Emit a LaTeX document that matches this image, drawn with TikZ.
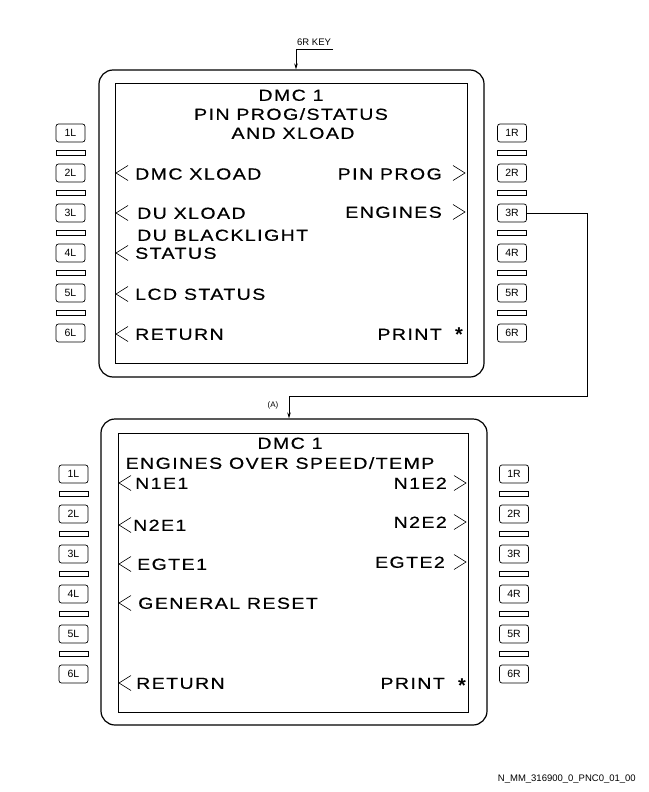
\documentclass[tikz,border=0pt]{standalone}
\usepackage{fontspec}
\setmainfont{Liberation Sans}
\newfontfamily\scrfont[FakeStretch=1.22,LetterSpace=9,FakeBold=0.5]{Liberation Sans}
\usetikzlibrary{arrows.meta}
\begin{document}
\begin{tikzpicture}[x=1pt,y=-1pt,
 outerbox/.style={draw, line width=1.2pt, rounded corners=14pt, inner sep=0pt},
 screenbox/.style={draw, line width=0.9pt, inner sep=0pt},
 keybox/.style={draw, line width=0.7pt, rounded corners=2.5pt, minimum width=29pt, minimum height=18pt, inner sep=0pt, font=\fontsize{10.5}{10.5}\selectfont},
 barbox/.style={draw, line width=0.7pt, minimum width=29pt, minimum height=5pt, inner sep=0pt},
 scrtxt/.style={inner sep=0pt, font=\scrfont\fontsize{16}{16}\selectfont},
 lt/.style={scrtxt, anchor=base west},
 rt/.style={scrtxt, anchor=base east},
 ct/.style={scrtxt, anchor=base},
 chev/.style={line width=0.6pt},
 link/.style={line width=0.7pt},
 tip/.style={-{Stealth[length=6pt,width=3.5pt]}},
 small/.style={inner sep=0pt, font=\fontsize{9.5}{9.5}\selectfont},
 lchev/.pic={\draw[chev] (12,-7.5) -- (0,0) -- (12,7.5);},
 rchev/.pic={\draw[chev] (-12,-7.5) -- (0,0) -- (-12,7.5);},
 star/.style={inner sep=0pt, font=\bfseries\fontsize{20}{20}\selectfont}
]
\useasboundingbox (0,0) rectangle (648,792);

% ---------- top unit ----------
\node[outerbox, minimum width=385pt, minimum height=307pt] (touter) at (291.5,223.5) {};
\node[screenbox, minimum width=352pt, minimum height=280pt] (tscreen) at (291,223) {};

\foreach \i in {1,...,6} {
  \pgfmathsetmacro{\yy}{133+40*(\i-1)}
  \node[keybox] (tL\i) at (70.5,\yy) {\i L};
  \node[keybox] (tR\i) at (512,\yy) {\i R};
}
\foreach \i in {1,...,5} {
  \pgfmathsetmacro{\yy}{153+40*(\i-1)}
  \node[barbox] (tLb\i) at (70.5,\yy) {};
  \node[barbox] (tRb\i) at (512,\yy) {};
}

\node[ct] (t1) at (291,100.8) {DMC 1};
\node[ct] (t2) at (291,119.8) {PIN PROG/STATUS};
\node[ct] (t3) at (293,138.8) {AND XLOAD};
\node[lt] (t4) at (135,179.5) {DMC XLOAD};
\node[rt] (t5) at (442,179.5) {PIN PROG};
\node[lt] (t6) at (137,218.8) {DU XLOAD};
\node[rt] (t7) at (442,217.8) {ENGINES};
\node[lt] (t8) at (137,240.8) {DU BLACKLIGHT};
\node[lt] (t9) at (135,258.8) {STATUS};
\node[lt] (t10) at (135,299.8) {LCD STATUS};
\node[lt] (t11) at (135,339.8) {RETURN};
\node[rt] (t12) at (442,339.8) {PRINT};
\node[star] (t13) at (459,335) {*};

\foreach \y in {173,213,253,294,334} \pic at (116,\y) {lchev};
\pic at (465,173) {rchev};
\pic at (465,212) {rchev};

% 6R KEY arrow
\node[small, anchor=base west] (keylbl) at (297,46) {6R KEY};
\coordinate (kend) at (333,49);
\coordinate (kcorner) at (296,49);
\draw[link, tip] (kend) -- (kcorner) -- (kcorner |- touter.north);

% ---------- bottom unit ----------
\node[outerbox, minimum width=386pt, minimum height=306pt] (bouter) at (294,572) {};
\node[screenbox, minimum width=350pt, minimum height=279pt] (bscreen) at (293,572.5) {};

\foreach \i in {1,...,6} {
  \pgfmathsetmacro{\yy}{474+40*(\i-1)}
  \node[keybox] (bL\i) at (73.5,\yy) {\i L};
  \node[keybox] (bR\i) at (514,\yy) {\i R};
}
\foreach \i in {1,...,5} {
  \pgfmathsetmacro{\yy}{494+40*(\i-1)}
  \node[barbox] (bLb\i) at (73.5,\yy) {};
  \node[barbox] (bRb\i) at (514,\yy) {};
}

\node[ct] (b1) at (290,448.8) {DMC 1};
\node[ct] (b2) at (280,468.8) {ENGINES OVER SPEED/TEMP};
\node[lt] (b3) at (135,488.8) {N1E1};
\node[rt] (b4) at (447,488.8) {N1E2};
\node[lt] (b5) at (133,530.8) {N2E1};
\node[rt] (b6) at (447,527.8) {N2E2};
\node[lt] (b7) at (137,569.8) {EGTE1};
\node[rt] (b8) at (445,567.8) {EGTE2};
\node[lt] (b9) at (138,608.8) {GENERAL RESET};
\node[lt] (b10) at (136,688.8) {RETURN};
\node[rt] (b11) at (445,688.8) {PRINT};
\node[star] (b12) at (462,686) {*};

\foreach \y in {483,525,564,603,683} \pic at (119,\y) {lchev};
\pic at (466,483) {rchev};
\pic at (466,522) {rchev};
\pic at (466,562) {rchev};

% ---------- 3R connector ----------
\coordinate (cA) at (289,396);
\draw[link, tip] (tR3.east) -- (587,213) |- (cA) -- (cA |- bouter.north);
\node[small, font=\fontsize{8}{8}\selectfont] (albl) at (273,405) {(A)};

% footer
\node[small, anchor=base east] (foot) at (636,781) {N\_MM\_316900\_0\_PNC0\_01\_00};
\end{tikzpicture}
\end{document}
